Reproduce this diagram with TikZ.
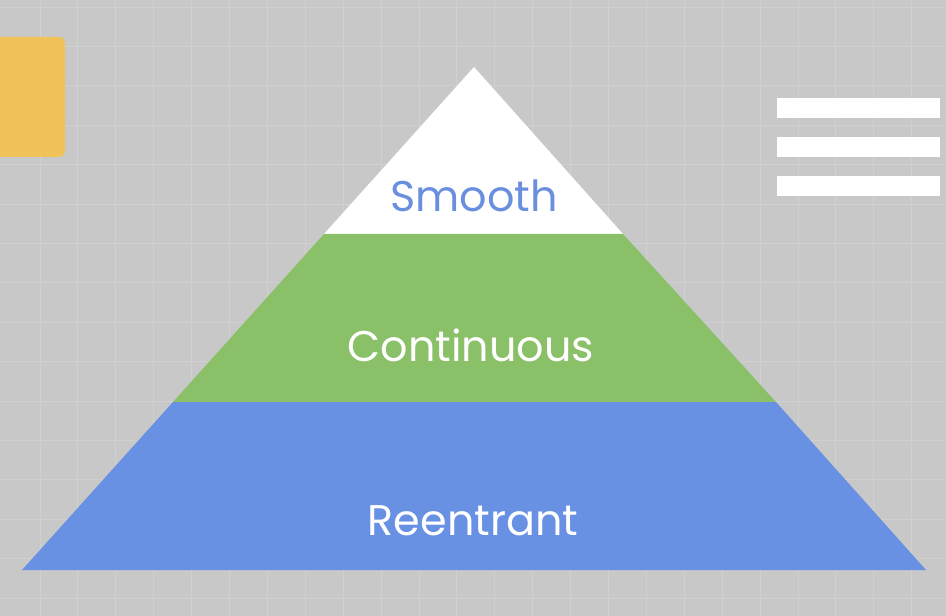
\documentclass[tikz,border=0pt]{standalone}
\usepackage{fontspec}
\setmainfont{Poppins}
\usepackage{tikz}
\usepackage{xcolor}
\definecolor{bgGray}{HTML}{C8C8C8}
\definecolor{gridGray}{HTML}{D0D0D0}
\definecolor{tierGreen}{HTML}{8AC068}
\definecolor{tierBlue}{HTML}{6891E4}
\definecolor{labelBlue}{HTML}{6A8FDE}
\definecolor{noteYellow}{HTML}{F0C35A}

\begin{document}
\begin{tikzpicture}[x=0.025cm,y=-0.025cm,
  gridline/.style={gridGray,line width=0.6pt},
  tierlabel/.style={anchor=base,inner sep=0pt,font=\fontsize{30.5}{36}\selectfont}]
\useasboundingbox (0,0) rectangle (946,616);
\fill[bgGray] (0,0) rectangle (946,616);
% faint grid
\foreach \i in {0,...,24} \draw[gridline] ({40+37.9*\i},0) -- ({40+37.9*\i},616);
\foreach \j in {0,...,15} \draw[gridline] (0,{7+39.4*\j}) -- (946,{7+39.4*\j});
% side decorations
\fill[noteYellow,rounded corners=0.15cm] (-20,37) rectangle (65,157);
\foreach \y in {98,137,176} \fill[white] (777,\y) rectangle (940,\y+20);
% pyramid tiers
\fill[white] (474,67) -- (623,234) -- (324,234) -- cycle;
\fill[tierGreen] (324,234) -- (623,234) -- (776,402) -- (173,402) -- cycle;
\fill[tierBlue] (173,402) -- (776,402) -- (926,570) -- (22,570) -- cycle;
\node[tierlabel,labelBlue] (smooth) at (474,212) {Smooth};
\node[tierlabel,white] (cont) at (471,361) {Continuous};
\node[tierlabel,white] (reent) at (473,535) {Reentrant};
\end{tikzpicture}
\end{document}
